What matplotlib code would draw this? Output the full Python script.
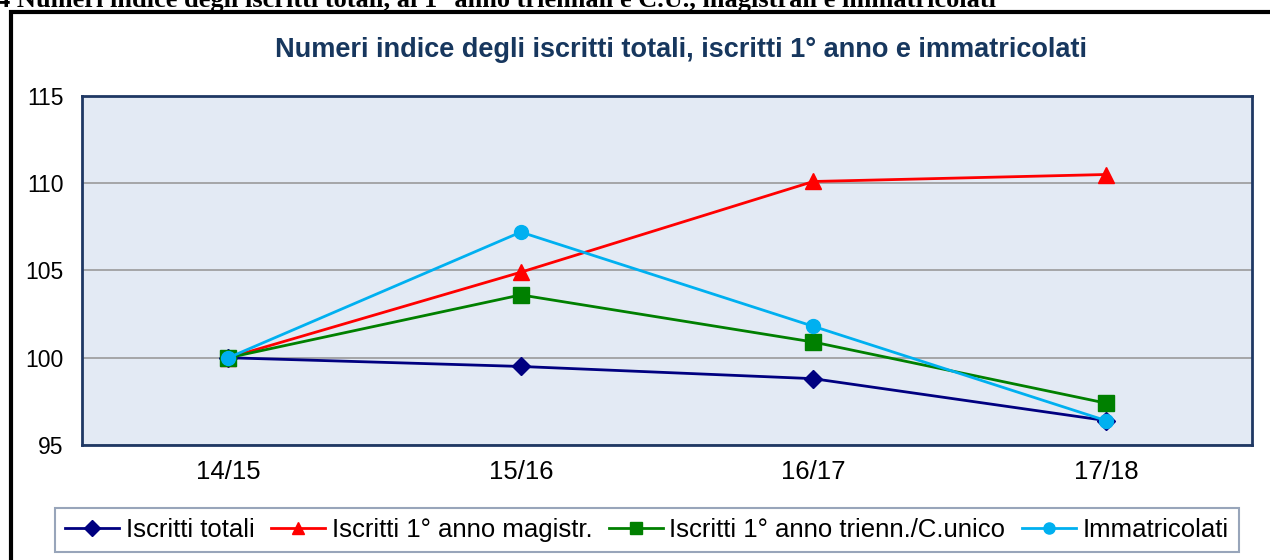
import matplotlib
matplotlib.use('Agg')
import matplotlib.pyplot as plt
from matplotlib.patches import Rectangle

years = ['14/15', '15/16', '16/17', '17/18']
iscritti_totali = [100, 99.5, 98.8, 96.4]
iscritti_magistr = [100, 104.9, 110.1, 110.5]
iscritti_trienn = [100, 103.6, 100.9, 97.4]
immatricolati = [100, 107.2, 101.8, 96.4]
y_ticks = [95, 100, 105, 110, 115]

plt.rcParams['font.family'] = ['Liberation Sans', 'DejaVu Sans']

fig = plt.figure(figsize=(12.7, 5.6), dpi=100)
ax = fig.add_axes([0.0646, 0.2054, 0.9213, 0.6232])

x = range(len(years))
ax.plot(x, iscritti_totali, color='#000080', lw=2, marker='D', ms=9,
        label='Iscritti totali', zorder=3)
ax.plot(x, iscritti_magistr, color='#FF0000', lw=2, marker='^', ms=11,
        label='Iscritti 1° anno magistr.', zorder=3)
ax.plot(x, iscritti_trienn, color='#008000', lw=2, marker='s', ms=11,
        label='Iscritti 1° anno trienn./C.unico', zorder=3)
ax.plot(x, immatricolati, color='#00B0F0', lw=2, marker='o', ms=10,
        label='Immatricolati', zorder=3)

ax.set_xlim(-0.5, 3.5)
ax.set_ylim(95, 115)
ax.set_xticks(list(x))
ax.set_xticklabels(years)
ax.set_yticks(y_ticks)
ax.tick_params(length=0, colors='black')
ax.tick_params(axis='y', pad=13.5, labelsize=16.5)
ax.tick_params(axis='x', pad=11, labelsize=18.5)
ax.set_facecolor('#E3EAF4')
ax.grid(axis='y', color='#9A9A9A', lw=1.2)
ax.set_axisbelow(True)
for s in ax.spines.values():
    s.set_color('#1F3864')
    s.set_linewidth(2)

fig.text(681 / 1270, 1 - 50 / 560,
         'Numeri indice degli iscritti totali, iscritti 1° anno e immatricolati',
         ha='center', va='center', fontsize=19.5, fontweight='bold', color='#17375E')

# caption cut off at the top, as in the source page
fig.text(-0.002, 1 - 6.5 / 560,
         '4 Numeri indice degli iscritti totali, ai 1° anno triennali e C.U., magistrali e immatricolati',
         ha='left', va='baseline', fontsize=19, fontweight='bold',
         family='Liberation Serif', color='black')

# outer frame
fig.add_artist(Rectangle((11 / 1270, -0.2), 2, 1.2 - 12 / 560,
                         transform=fig.transFigure, fill=False,
                         edgecolor='black', lw=3))

leg = fig.legend(loc='center', bbox_to_anchor=(647 / 1270, 1 - 530 / 560),
                 ncol=4, fontsize=18.5, frameon=True, fancybox=False,
                 edgecolor='#7F8FA9', handlelength=2.1, handletextpad=0.25,
                 columnspacing=0.65, borderpad=0.4, borderaxespad=0)
leg.get_frame().set_linewidth(1.5)
for h in leg.legend_handles:
    h.set_markersize(8)

fig.savefig('out.png', dpi=100)
